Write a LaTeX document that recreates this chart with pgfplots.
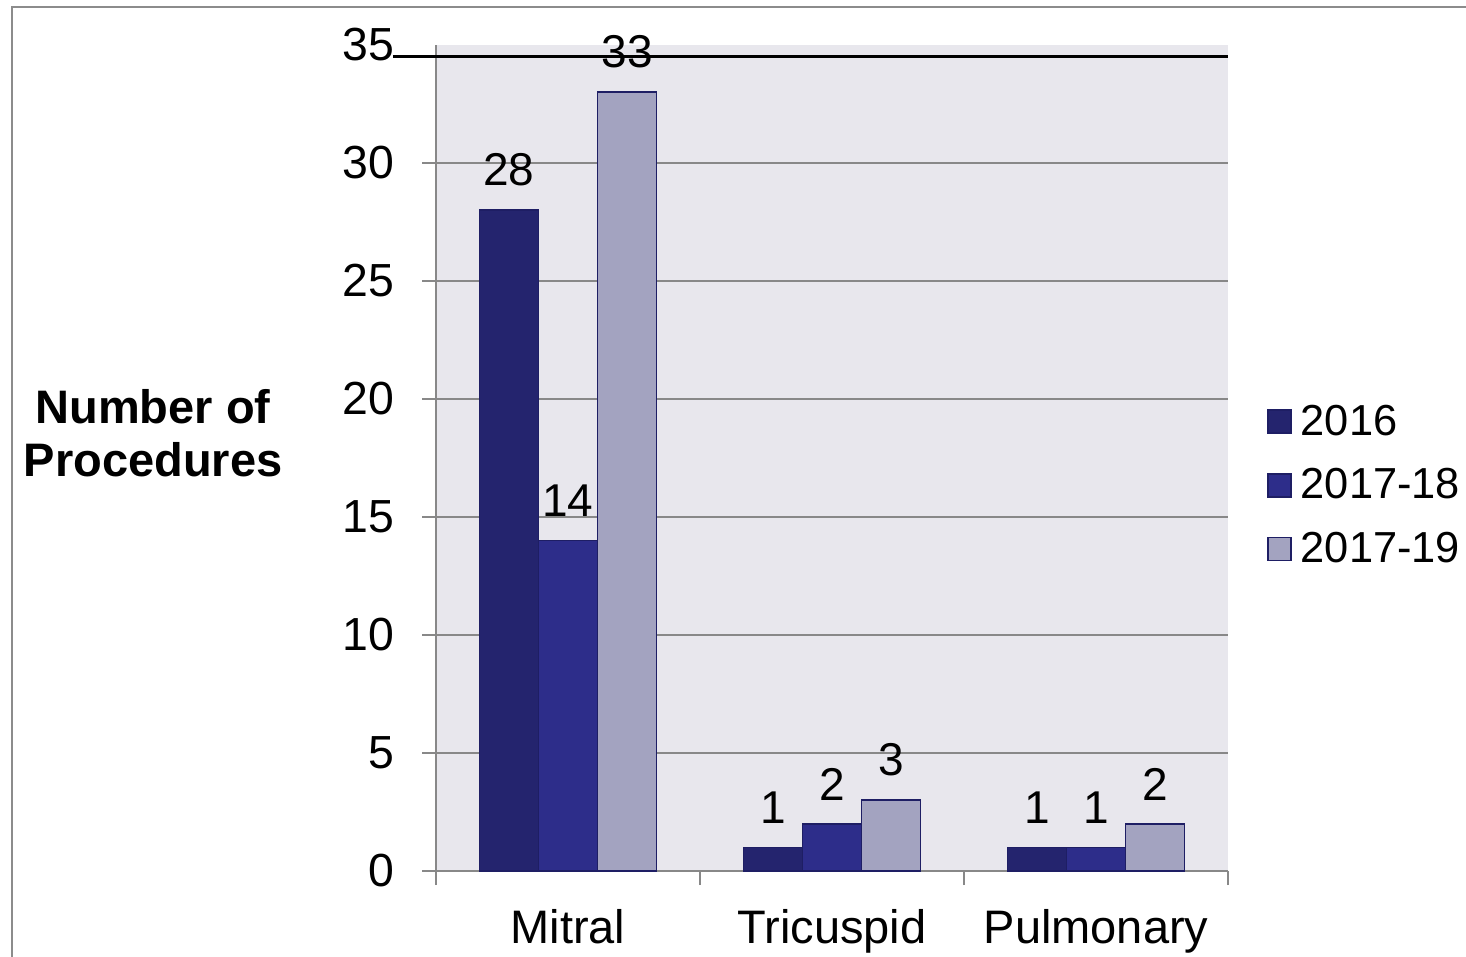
\documentclass[border=0pt]{standalone}
\usepackage{fontspec}
\setmainfont{Liberation Sans}
\usepackage{pgfplots}
\pgfplotsset{compat=1.18}
\definecolor{cA}{RGB}{36,36,110}
\definecolor{cB}{RGB}{45,45,138}
\definecolor{cC}{RGB}{163,163,192}
\definecolor{edge}{RGB}{30,30,100}
\definecolor{bg}{RGB}{232,231,237}
\definecolor{axgray}{RGB}{136,136,136}
\definecolor{framegray}{RGB}{140,140,140}
\begin{document}
\begin{tikzpicture}
\useasboundingbox (0,0) rectangle (733pt,478.5pt);
\draw[framegray, line width=1.2pt] (6pt,-5pt) -- (6pt,475pt) -- (740pt,475pt);
\node[font=\bfseries\fontsize{23.5}{26.5}\selectfont, align=center] at (76.5pt,262pt) {Number of\\Procedures};
\begin{axis}[
 at={(218pt,43pt)}, anchor=south west,
 width=396pt, height=413pt, scale only axis,
 xmin=-0.5, xmax=2.5, ymin=0, ymax=35,
 axis x line*=bottom, axis y line*=left,
 axis line style={axgray, line width=1pt},
 axis background/.style={fill=bg},
 ybar=0pt, bar width=29.5pt,
 /pgf/number format/assume math mode=true,
 ytick={0,5,...,30},
 extra y ticks={35}, extra y tick style={major tick length=0pt, grid=none, yticklabel style={xshift=-7pt}},
 ymajorgrids, grid style={axgray, line width=0.9pt},
 tick align=outside, major tick length=7pt,
 tick style={axgray, line width=1pt},
 xtick={-0.5,0.5,1.5,2.5}, xticklabels={},
 extra x ticks={0,1,2}, extra x tick labels={Mitral,Tricuspid,Pulmonary},
 extra x tick style={major tick length=0pt, grid=none},
 yticklabel style={font=\fontsize{23.2}{27}\selectfont, inner sep=0pt, anchor=east, xshift=-13.5pt},
 xticklabel style={font=\fontsize{23.5}{28}\selectfont, inner sep=0pt, anchor=north, yshift=-19pt},
 nodes near coords,
 nodes near coords style={font=\fontsize{23}{27}\selectfont, anchor=south, inner sep=0pt, yshift=11.5pt, black},
 clip=false,
 legend image code/.code={\draw[#1, line width=0.8pt] (0pt,-5.75pt) rectangle (11.5pt,5.75pt);},
 legend style={at={(1.049,0.467)}, anchor=west, draw=none, fill=none, font=\fontsize{21.7}{25}\selectfont, row sep=13.25pt, inner sep=0pt, nodes={inner sep=1pt}, /tikz/every odd column/.append style={column sep=3.5pt}},
 legend cell align=left,
]
\addplot[fill=cA, draw=edge, line width=0.75pt] coordinates {(0,28) (1,1) (2,1)};
\addplot[fill=cB, draw=edge, line width=0.75pt] coordinates {(0,14) (1,2) (2,1)};
\addplot[fill=cC, draw=edge, line width=0.75pt] coordinates {(0,33) (1,3) (2,2)};
\legend{2016,2017-18,2017-19}
\draw[black, line width=1.5pt] (axis cs:-0.663,34.53) -- (axis cs:2.5,34.53);
\end{axis}
\end{tikzpicture}
\end{document}
